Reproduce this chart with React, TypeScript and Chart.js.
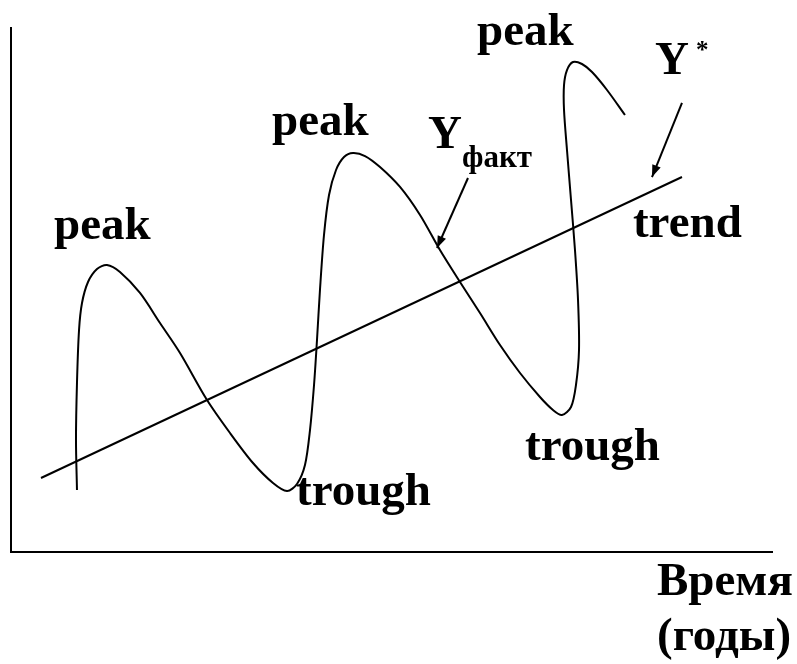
import React, { useEffect, useRef } from "react";
import { Chart, registerables } from "chart.js";

Chart.register(...registerables);

const cycleX = [8.67, 8.54, 8.67, 8.94, 9.33, 10.12, 11.3, 12.61, 14.32, 16.95, 19.58, 22.21, 25.76, 28.78, 31.8, 34.43, 36.27, 37.58, 38.63, 39.29, 39.82, 40.21, 40.6, 41.13, 41.79, 42.71, 43.76, 44.94, 46.52, 48.49, 51.12, 53.75, 56.37, 59.0, 61.63, 64.26, 66.89, 69.51, 71.22, 72.4, 73.59, 74.24, 74.64, 74.51, 74.11, 73.59, 73.06, 72.67, 72.67, 73.06, 73.85, 75.03, 76.35, 78.32, 80.68];
const cycleY = [11.83, 21.37, 32.25, 42.37, 47.52, 51.53, 54.01, 54.77, 53.44, 49.43, 43.7, 37.98, 29.01, 22.71, 16.98, 13.17, 11.64, 12.98, 16.6, 23.28, 31.87, 40.46, 50.0, 60.5, 68.13, 72.9, 75.38, 76.15, 75.57, 73.47, 69.66, 64.31, 57.63, 51.53, 45.61, 39.5, 34.16, 29.58, 27.1, 26.15, 27.67, 31.87, 38.55, 48.09, 57.63, 67.18, 76.72, 84.35, 89.12, 91.98, 93.51, 93.13, 91.6, 88.17, 83.4];

// Trend (Y*)
const trendX = [3.94, 88.17];
const trendY = [14.12, 71.56];

// Pointer arrows
const arrowFactX = [60.05, 55.98];
const arrowFactY = [71.37, 58.02];
const arrowTrendX = [88.17, 84.23];
const arrowTrendY = [85.69, 71.56];

// Text annotations
const labelTexts = ["peak", "peak", "peak", "trough", "trough", "trend", "Y", "*", "Y", "факт", "Время", "(годы)"];
const labelX = [5.65, 34.3, 61.24, 37.45, 67.54, 81.73, 84.63, 90.01, 54.8, 59.26, 84.89, 84.89];
const labelY = [59.73, 79.58, 96.76, 8.97, 17.56, 60.11, 91.22, 94.27, 77.1, 73.47, -8.21, -18.7];
const labelSizes = [47, 47, 47, 47, 47, 47, 47, 25, 47, 31, 47, 47];

const FONT = "'Liberation Serif', 'Times New Roman', serif";

const zip = (xs: number[], ys: number[]) => xs.map((x, i) => ({ x, y: ys[i] }));

const overlayPlugin = {
  id: "overlay",
  afterDatasetsDraw(chart: any) {
    const ctx = chart.ctx;
    const xs = chart.scales.x;
    const ys = chart.scales.y;
    const arrows = [
      [arrowFactX, arrowFactY],
      [arrowTrendX, arrowTrendY],
    ];
    ctx.save();
    ctx.fillStyle = "#000";
    for (const [ax, ay] of arrows) {
      const x0 = xs.getPixelForValue(ax[0]);
      const y0 = ys.getPixelForValue(ay[0]);
      const x1 = xs.getPixelForValue(ax[1]);
      const y1 = ys.getPixelForValue(ay[1]);
      const ang = Math.atan2(y1 - y0, x1 - x0);
      const len = 12;
      const half = 4.5;
      ctx.beginPath();
      ctx.moveTo(x1, y1);
      ctx.lineTo(x1 - len * Math.cos(ang) + half * Math.sin(ang), y1 - len * Math.sin(ang) - half * Math.cos(ang));
      ctx.lineTo(x1 - len * Math.cos(ang) - half * Math.sin(ang), y1 - len * Math.sin(ang) + half * Math.cos(ang));
      ctx.closePath();
      ctx.fill();
    }
    ctx.restore();
  },
  afterDraw(chart: any) {
    const ctx = chart.ctx;
    const xs = chart.scales.x;
    const ys = chart.scales.y;
    ctx.save();
    ctx.fillStyle = "#000";
    ctx.textAlign = "left";
    ctx.textBaseline = "alphabetic";
    labelTexts.forEach((t, i) => {
      ctx.font = `bold ${labelSizes[i]}px ${FONT}`;
      ctx.fillText(t, xs.getPixelForValue(labelX[i]), ys.getPixelForValue(labelY[i]));
    });
    ctx.restore();
  },
};

export default function App() {
  const ref = useRef<HTMLCanvasElement | null>(null);

  useEffect(() => {
    if (!ref.current) return;
    const lineDs = (data: any[], width = 2) => ({
      data,
      showLine: true,
      borderColor: "#000",
      borderWidth: width,
      pointRadius: 0,
      fill: false,
      clip: false as any,
    });
    const chart = new Chart(ref.current, {
      type: "scatter",
      data: {
        datasets: [
          { ...lineDs(zip(cycleX, cycleY)), tension: 0.3, label: "Y факт" },
          { ...lineDs(zip(trendX, trendY)), tension: 0, label: "Y*" },
          { ...lineDs(zip(arrowFactX, arrowFactY)), tension: 0, label: "arrow1" },
          { ...lineDs(zip(arrowTrendX, arrowTrendY)), tension: 0, label: "arrow2" },
        ],
      },
      options: {
        animation: false,
        responsive: false,
        events: [],
        layout: { padding: { left: 11, top: 28, right: 25, bottom: 112 } },
        plugins: { legend: { display: false }, tooltip: { enabled: false } },
        scales: {
          x: {
            type: "linear",
            min: 0,
            max: 100,
            grid: { display: false, drawTicks: false },
            ticks: { display: false },
            border: { display: true, color: "#000", width: 2 },
          },
          y: {
            type: "linear",
            min: 0,
            max: 100,
            grid: { display: false, drawTicks: false },
            ticks: { display: false },
            border: { display: true, color: "#000", width: 2 },
          },
        },
      },
      plugins: [overlayPlugin],
    });
    return () => chart.destroy();
  }, []);

  return (
    <div style={{ position: "fixed", left: 0, top: 0, width: 797, height: 664, background: "#fff" }}>
      <canvas ref={ref} width={797} height={664} style={{ display: "block" }} />
    </div>
  );
}
